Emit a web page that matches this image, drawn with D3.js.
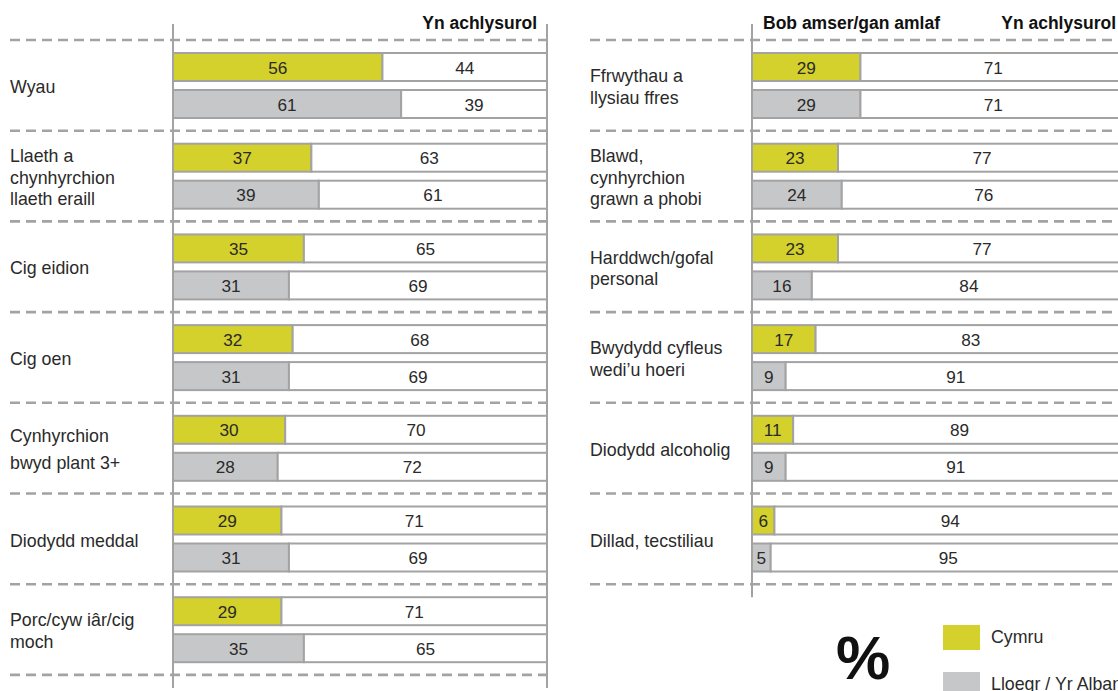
<!DOCTYPE html>
<html>
<head>
<meta charset="utf-8">
<script src="https://cdn.jsdelivr.net/npm/d3@7"></script>
<style>
  html, body { margin: 0; padding: 0; background: #fff; }
  svg { display: block; }
  text { font-family: "Liberation Sans", Arial, sans-serif; }
</style>
</head>
<body>
<svg id="chart" width="1118" height="691"></svg>
<script>
// Share of shoppers buying Welsh-origin produce: "always/most of the time" vs "occasionally"
const series = ["Cymru", "Lloegr / Yr Alban"];
const headerOften = "Bob amser/gan amlaf";
const headerSometimes = "Yn achlysurol";

// Left column
const leftCategories = [
  "Wyau",
  "Llaeth a\nchynhyrchion\nllaeth eraill",
  "Cig eidion",
  "Cig oen",
  "Cynhyrchion\nbwyd plant 3+",
  "Diodydd meddal",
  "Porc/cyw iâr/cig\nmoch"
];
const leftWales = [56, 37, 35, 32, 30, 29, 29];
const leftEnglandScotland = [61, 39, 31, 31, 28, 31, 35];

// Right column
const rightCategories = [
  "Ffrwythau a\nllysiau ffres",
  "Blawd,\ncynhyrchion\ngrawn a phobi",
  "Harddwch/gofal\npersonal",
  "Bwydydd cyfleus\nwedi’u hoeri",
  "Diodydd alcoholig",
  "Dillad, tecstiliau"
];
const rightWales = [29, 23, 23, 17, 11, 6];
const rightEnglandScotland = [29, 24, 16, 9, 9, 5];

const colors = { "Cymru": "#d4d02c", "Lloegr / Yr Alban": "#c6c7c9" };
const gridGrey = "#a3a3a3";
const textColor = "#2a2a2a";
const labelSize = 17.8;
const valueSize = 17.2;
const defaultLineGap = 21.5;
// one label is set with looser leading
const looseLeading = { "Cynhyrchion\nbwyd plant 3+": 27 };

const svg = d3.select("#chart");

function drawPanel(opts) {
  const { categories, wales, other, x0, x1, labelX, dashStart, headers } = opts;
  const bandStep = 90.7;
  const top = 40;
  const rows = categories.map((c, i) => ({
    name: c,
    values: [wales[i], other[i]]
  }));

  const y = d3.scaleBand()
    .domain(categories)
    .range([top, top + bandStep * categories.length])
    .paddingInner(0).paddingOuter(0);

  const yInner = d3.scaleBand()
    .domain(series)
    .range([13, 78])
    .paddingInner(9 / 37);

  const x = d3.scaleLinear().domain([0, 100]).range([x0, x1]);

  const g = svg.append("g");

  // dashed separators at the top of every group and after the last one
  const sepYs = categories.map(c => y(c)).concat([top + bandStep * categories.length]);
  g.selectAll("line.sep").data(sepYs).join("line")
    .attr("class", "sep")
    .attr("x1", dashStart).attr("x2", x1)
    .attr("y1", d => d).attr("y2", d => d)
    .attr("stroke", gridGrey)
    .attr("stroke-width", 2.6)
    .attr("stroke-dasharray", "10,6");

  const groups = g.selectAll("g.row").data(rows).join("g")
    .attr("class", "row")
    .attr("transform", d => `translate(0,${y(d.name)})`);

  // category labels, vertically centred on the pair of bars
  groups.append("text")
    .attr("fill", textColor)
    .attr("font-size", labelSize)
    .each(function (d) {
      const lines = d.name.split("\n");
      const lh = looseLeading[d.name] || defaultLineGap;
      const center = 46.5;
      const first = center - (lines.length - 1) * lh / 2 + 6.5;
      d3.select(this).selectAll("tspan").data(lines).join("tspan")
        .attr("x", labelX)
        .attr("y", (l, i) => first + i * lh)
        .text(l => l);
    });

  // bars: coloured "often" segment followed by white "occasionally" segment
  const bars = groups.selectAll("g.bar")
    .data(d => d.values.map((v, i) => ({ s: series[i], v })))
    .join("g").attr("class", "bar")
    .attr("transform", d => `translate(0,${yInner(d.s)})`);

  bars.append("rect")
    .attr("x", x(0))
    .attr("width", d => x(d.v) - x(0))
    .attr("height", yInner.bandwidth())
    .attr("fill", d => colors[d.s])
    .attr("stroke", gridGrey).attr("stroke-width", 2);

  bars.append("rect")
    .attr("x", d => x(d.v))
    .attr("width", d => x(100) - x(d.v))
    .attr("height", yInner.bandwidth())
    .attr("fill", "#fff")
    .attr("stroke", gridGrey).attr("stroke-width", 2);

  bars.append("text")
    .attr("x", d => (x(0) + x(d.v)) / 2)
    .attr("y", yInner.bandwidth() / 2 + 6.5)
    .attr("text-anchor", "middle")
    .attr("font-size", valueSize)
    .attr("fill", textColor)
    .text(d => d.v);

  bars.append("text")
    .attr("x", d => (x(d.v) + x(100)) / 2)
    .attr("y", yInner.bandwidth() / 2 + 6.5)
    .attr("text-anchor", "middle")
    .attr("font-size", valueSize)
    .attr("fill", textColor)
    .text(d => 100 - d.v);

  // frame: axis at zero and the right-hand edge
  const bottom = top + bandStep * categories.length + 13;
  g.selectAll("line.edge").data([x0, x1]).join("line")
    .attr("class", "edge")
    .attr("x1", d => d).attr("x2", d => d)
    .attr("y1", 24).attr("y2", bottom)
    .attr("stroke", gridGrey).attr("stroke-width", 2);

  // column headers
  if (headers.often) {
    g.append("text")
      .attr("x", x0 + 11).attr("y", 29)
      .attr("font-size", 17.5).attr("font-weight", "bold").attr("fill", "#111")
      .text(headerOften);
  }
  g.append("text")
    .attr("x", x1 - 10).attr("y", 29)
    .attr("text-anchor", "end")
    .attr("font-size", 17.5).attr("font-weight", "bold").attr("fill", "#111")
    .text(headerSometimes);
}

drawPanel({
  categories: leftCategories, wales: leftWales, other: leftEnglandScotland,
  x0: 173, x1: 547, labelX: 10, dashStart: 10, headers: { often: false }
});
drawPanel({
  categories: rightCategories, wales: rightWales, other: rightEnglandScotland,
  x0: 752, x1: 1126, labelX: 590, dashStart: 590, headers: { often: true }
});

// percentage marker and legend
svg.append("text")
  .attr("x", 836).attr("y", 679)
  .attr("font-size", 61).attr("font-weight", "bold").attr("fill", "#111")
  .text("%");

const legend = svg.append("g").attr("transform", "translate(943,625)");
const ly = d3.scaleBand().domain(series).range([0, 72]).paddingInner(22 / 47);
legend.selectAll("rect").data(series).join("rect")
  .attr("x", 0).attr("y", d => ly(d))
  .attr("width", 37).attr("height", 25)
  .attr("fill", d => colors[d]);
legend.selectAll("text").data(series).join("text")
  .attr("x", 48).attr("y", d => ly(d) + 18)
  .attr("font-size", labelSize).attr("fill", textColor)
  .text(d => d);
</script>
</body>
</html>
